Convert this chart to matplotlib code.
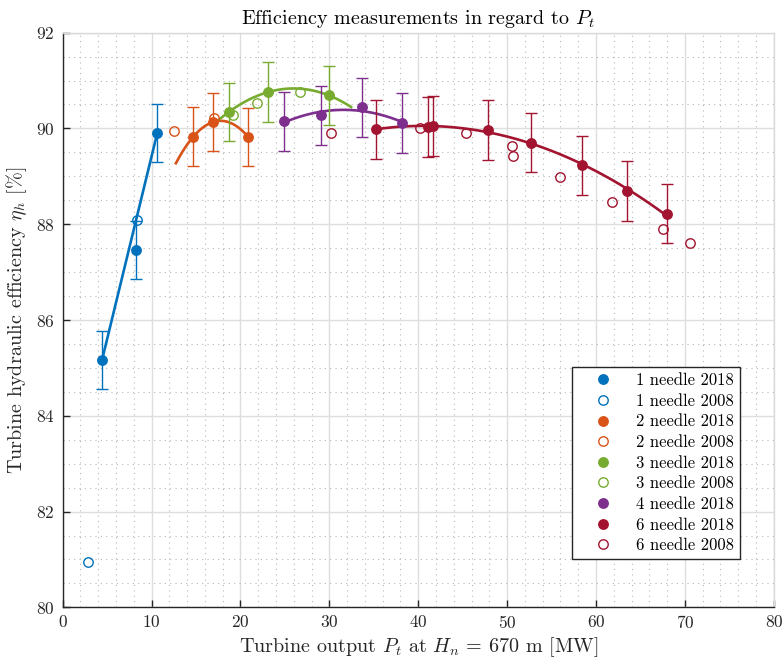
import numpy as np
import matplotlib
matplotlib.use("Agg")
import matplotlib.pyplot as plt
from matplotlib.lines import Line2D
from matplotlib.ticker import MultipleLocator

plt.rcParams["font.family"] = ["cmr10", "DejaVu Serif"]
plt.rcParams["mathtext.fontset"] = "cm"
plt.rcParams["axes.formatter.use_mathtext"] = True

# ---- measured data -------------------------------------------------------
# 1 needle
n1_2018_x = [4.43, 8.2, 10.63]
n1_2018_y = [85.17, 87.46, 89.90]
n1_2018_err = [0.60, 0.60, 0.60]
n1_2008_x = [2.89, 8.4]
n1_2008_y = [80.94, 88.08]

# 2 needles
n2_2018_x = [14.7, 16.86, 20.88]
n2_2018_y = [89.83, 90.13, 89.82]
n2_2018_err = [0.61, 0.61, 0.61]
n2_2008_x = [12.47, 17.05]
n2_2008_y = [89.94, 90.22]
n2_fit_span = [12.73, 20.88]

# 3 needles
n3_2018_x = [18.66, 23.13, 29.93]
n3_2018_y = [90.34, 90.76, 90.69]
n3_2018_err = [0.61, 0.62, 0.62]
n3_2008_x = [19.2, 21.9, 26.7]
n3_2008_y = [90.28, 90.53, 90.76]
n3_fit_span = [17.6, 32.45]

# 4 needles
n4_2018_x = [24.86, 29.07, 33.69, 38.16]
n4_2018_y = [90.15, 90.27, 90.44, 90.11]
n4_2018_err = [0.62, 0.62, 0.62, 0.62]

# 6 needles
n6_2018_x = [35.27, 41.09, 41.66, 47.85, 52.65, 58.37, 63.51, 67.94]
n6_2018_y = [89.98, 90.03, 90.05, 89.97, 89.70, 89.23, 88.69, 88.22]
n6_2018_err = [0.62, 0.62, 0.62, 0.62, 0.62, 0.62, 0.62, 0.62]
n6_2008_x = [30.2, 40.15, 45.41, 50.55, 50.67, 56.0, 61.75, 67.57, 70.57]
n6_2008_y = [89.90, 90.01, 89.91, 89.625, 89.42, 88.99, 88.46, 87.89, 87.60]

# ---- colours -------------------------------------------------------------
c_blue = "#0072BD"
c_orange = "#D95319"
c_green = "#77AC30"
c_purple = "#7E2F8E"
c_red = "#A2142F"

fig = plt.figure(figsize=(7.84, 6.66), dpi=100)
ax = fig.add_axes([0.080, 0.088, 0.907, 0.863])

LW_FIT = 1.9
MS = 6.8
ERR_KW = dict(fmt="none", elinewidth=1.0, capsize=4.2, capthick=1.0, zorder=3)
LABEL_FS = 14.5


def quad_fit(x, y, span):
    coef = np.polyfit(x, y, 2)
    xs = np.linspace(span[0], span[1], 200)
    return xs, np.polyval(coef, xs)


# fitted trends of the 2018 measurements
b_x = np.array(n1_2018_x)
b_y = np.array(n1_2018_y)
ax.plot(b_x[[0, -1]], b_y[[0, -1]], color=c_blue, lw=LW_FIT, zorder=2)
for x, y, span, c in [
    (n2_2018_x, n2_2018_y, n2_fit_span, c_orange),
    (n3_2018_x, n3_2018_y, n3_fit_span, c_green),
    (n4_2018_x, n4_2018_y, [min(n4_2018_x), max(n4_2018_x)], c_purple),
    (n6_2018_x, n6_2018_y, [min(n6_2018_x), max(n6_2018_x)], c_red),
]:
    xs, ys = quad_fit(x, y, span)
    ax.plot(xs, ys, color=c, lw=LW_FIT, zorder=2)

# error bars
for x, y, e, c in [
    (n1_2018_x, n1_2018_y, n1_2018_err, c_blue),
    (n2_2018_x, n2_2018_y, n2_2018_err, c_orange),
    (n3_2018_x, n3_2018_y, n3_2018_err, c_green),
    (n4_2018_x, n4_2018_y, n4_2018_err, c_purple),
    (n6_2018_x, n6_2018_y, n6_2018_err, c_red),
]:
    ax.errorbar(x, y, yerr=e, ecolor=c, **ERR_KW)

# markers
series = [
    ("1 needle 2018", n1_2018_x, n1_2018_y, c_blue, True),
    ("1 needle 2008", n1_2008_x, n1_2008_y, c_blue, False),
    ("2 needle 2018", n2_2018_x, n2_2018_y, c_orange, True),
    ("2 needle 2008", n2_2008_x, n2_2008_y, c_orange, False),
    ("3 needle 2018", n3_2018_x, n3_2018_y, c_green, True),
    ("3 needle 2008", n3_2008_x, n3_2008_y, c_green, False),
    ("4 needle 2018", n4_2018_x, n4_2018_y, c_purple, True),
    ("6 needle 2018", n6_2018_x, n6_2018_y, c_red, True),
    ("6 needle 2008", n6_2008_x, n6_2008_y, c_red, False),
]
handles = []
for label, x, y, c, filled in series:
    fc = c if filled else "none"
    ax.plot(x, y, ls="none", marker="o", ms=MS, mfc=fc, mec=c, mew=1.0, zorder=4)
    handles.append(Line2D([], [], ls="none", marker="o", ms=MS, mfc=fc, mec=c,
                          mew=1.0, label=label))

# axes, ticks and grid
ax.set_xlim(0, 80)
ax.set_ylim(80, 92)
ax.xaxis.set_major_locator(MultipleLocator(10))
ax.xaxis.set_minor_locator(MultipleLocator(2))
ax.yaxis.set_major_locator(MultipleLocator(2))
ax.yaxis.set_minor_locator(MultipleLocator(0.5))
ax.grid(True, which="major", color="#dedede", lw=1.0, ls="-")
ax.grid(True, which="minor", color="#b8b8b8", lw=0.8, ls=(0, (1, 3.8)))
ax.set_axisbelow(True)
ax.tick_params(which="major", direction="in", length=5, width=1.0,
               color="#262626", labelsize=12.5, labelcolor="#262626")
ax.tick_params(axis="x", which="major", pad=5)
ax.tick_params(axis="y", which="major", pad=6)
ax.tick_params(which="minor", length=0)
for s in ("left", "bottom"):
    ax.spines[s].set_color("#262626")
    ax.spines[s].set_linewidth(1.0)
for s in ("top", "right"):
    ax.spines[s].set_color("#d9d9d9")
    ax.spines[s].set_linewidth(1.0)

ax.set_title("Efficiency measurements in regard to $P_t$", fontsize=LABEL_FS, pad=6)
ax.set_xlabel("Turbine output $P_t$ at $H_n$ = 670 m [MW]", fontsize=LABEL_FS,
              color="#262626", labelpad=3)
ax.set_ylabel(r"Turbine hydraulic efficiency $\eta_h$ [%]", fontsize=LABEL_FS,
              color="#262626", labelpad=5)

leg = ax.legend(handles=handles, loc="lower right",
                bbox_to_anchor=(0.9526, 0.0841), borderaxespad=0,
                fontsize=12, labelspacing=0.32, handletextpad=0.5,
                handlelength=3.0, borderpad=0.35, fancybox=False,
                framealpha=1.0, edgecolor="#262626")
leg.get_frame().set_linewidth(1.0)

fig.savefig("out.png", dpi=100)
